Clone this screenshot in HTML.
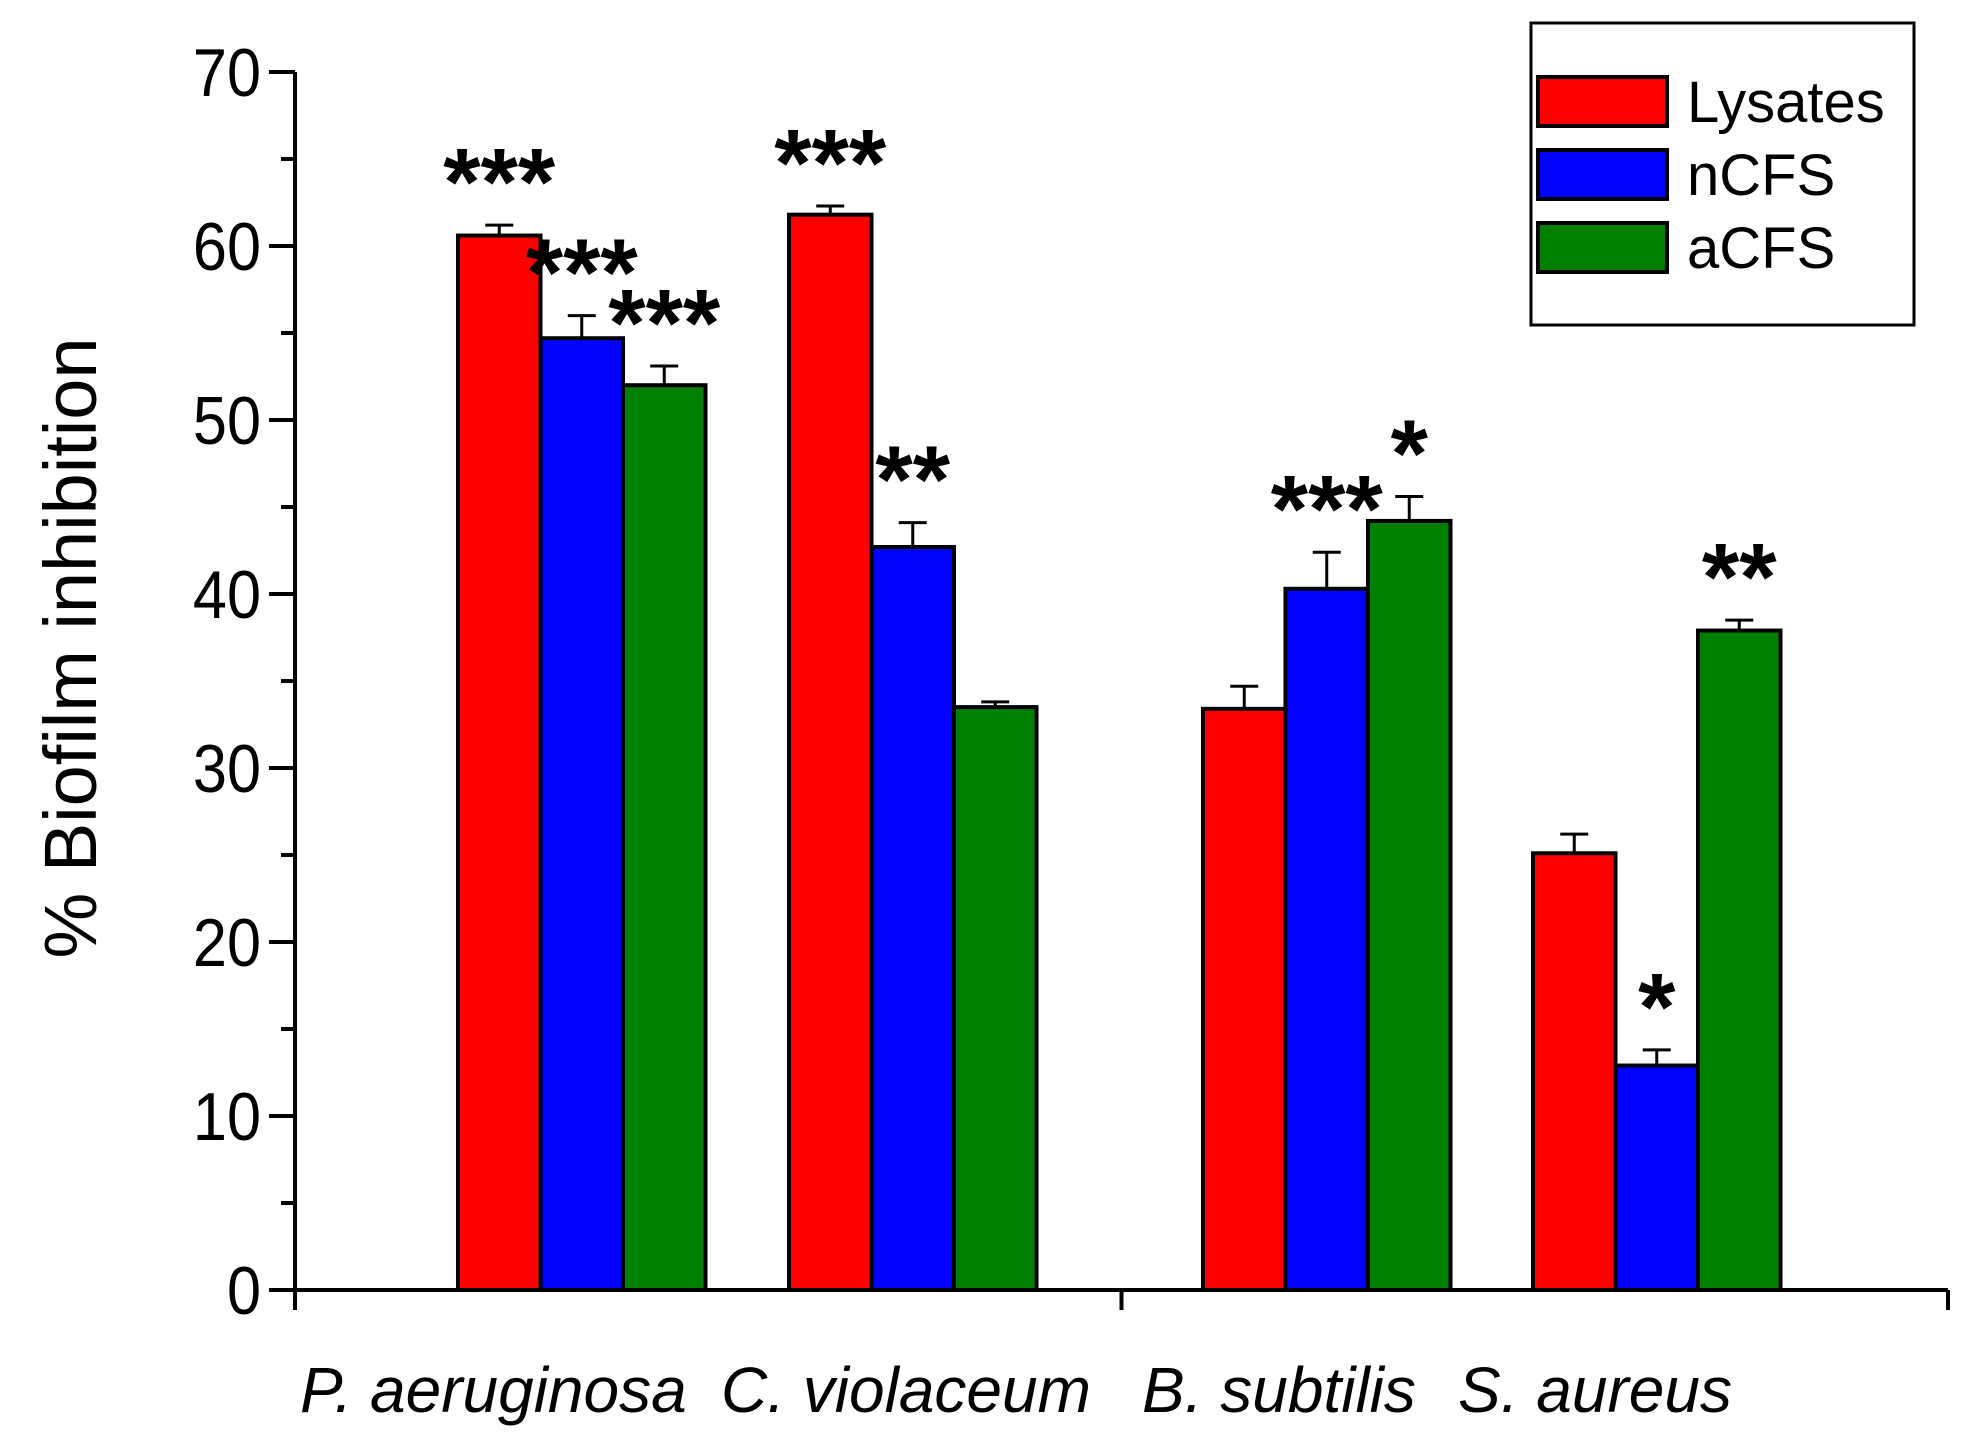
<!DOCTYPE html>
<html><head><meta charset="utf-8"><style>
html,body{margin:0;padding:0;background:#fff;}
svg{display:block;font-family:"Liberation Sans",sans-serif;}
</style></head><body>
<svg id="chart" width="1973" height="1436" viewBox="0 0 1973 1436">
<g id="plot"></g>
</svg>
<script>
const categories = ["P. aeruginosa", "C. violaceum", "B. subtilis", "S. aureus"];
const seriesNames = ["Lysates", "nCFS", "aCFS"];
const lysates = [60.6, 61.8, 33.4, 25.1];
const ncfs = [54.7, 42.7, 40.3, 12.9];
const acfs = [52.0, 33.5, 44.2, 37.9];
const lysatesErr = [0.6, 0.5, 1.3, 1.1];
const ncfsErr = [1.3, 1.4, 2.1, 0.9];
const acfsErr = [1.1, 0.3, 1.4, 0.6];
const lysatesSig = ["***", "***", "", ""];
const ncfsSig = ["***", "**", "***", "*"];
const acfsSig = ["***", "", "*", "**"];
const yTicks = [0, 10, 20, 30, 40, 50, 60, 70];

const NS = "http://www.w3.org/2000/svg";
const g = document.getElementById('plot');
const colors = ["#ff0000", "#0000ff", "#008000"];
const series = [lysates, ncfs, acfs];
const errs = [lysatesErr, ncfsErr, acfsErr];
const sigs = [lysatesSig, ncfsSig, acfsSig];
const x0 = 295, x1 = 1948, yBase = 1290, yTop = 72, yMax = 70;
function y(v){ return yBase - v / yMax * (yBase - yTop); }
const groupStart = [458, 789, 1203, 1533];
const bw = 82.5;
function mk(tag, attrs, text){
  const e = document.createElementNS(NS, tag);
  for (const k in attrs) e.setAttribute(k, attrs[k]);
  if (text !== undefined) e.textContent = text;
  g.appendChild(e);
  return e;
}
series.forEach((s, si) => {
  s.forEach((v, ci) => {
    const bx = groupStart[ci] + si * bw;
    const et = y(v + errs[si][ci]);
    const cx = bx + bw / 2;
    const l1 = mk('line', {x1: cx, x2: cx, y1: y(v), y2: et, stroke: '#000', 'stroke-width': 3});
    
    
    const l2 = mk('line', {x1: cx - 14, x2: cx + 14, y1: et, y2: et, stroke: '#000', 'stroke-width': 3});
    
    
    const r = mk('rect', {x: bx, y: y(v), width: bw, height: yBase - y(v), fill: colors[si], stroke: '#000', 'stroke-width': 4});
    
    
    if (sigs[si][ci]) {
      const t = mk('text', {x: cx, y: et - 10, 'text-anchor': 'middle', 'font-size': 96, 'font-weight': 'bold'}, sigs[si][ci]);
      
      
    }
  });
});
const ya = mk('line', {x1: x0, x2: x0, y1: yTop, y2: yBase + 2, stroke: '#000', 'stroke-width': 4});


const xa = mk('line', {x1: x0 - 26, x2: x1, y1: yBase, y2: yBase, stroke: '#000', 'stroke-width': 4});


yTicks.forEach(v => {
  const t = mk('line', {x1: x0 - 26, x2: x0, y1: y(v), y2: y(v), stroke: '#000', 'stroke-width': 4});
  
  
  if (v < yMax) {
    const m = mk('line', {x1: x0 - 14, x2: x0, y1: y(v + 5), y2: y(v + 5), stroke: '#000', 'stroke-width': 4});
    
    
  }
  const lb = mk('text', {x: x0 - 34, y: y(v) + 24, 'text-anchor': 'end', 'font-size': 68, transform: 'translate(' + (x0 - 34) + ',' + (y(v) + 24) + ') scale(0.9,1) translate(' + (-(x0 - 34)) + ',' + (-(y(v) + 24)) + ')'}, String(v));
  
  
});
[x0, (x0 + x1) / 2, x1].forEach(xx => {
  const t = mk('line', {x1: xx, x2: xx, y1: yBase, y2: yBase + 20, stroke: '#000', 'stroke-width': 4});
  
  
});
const labelX = [300, 721, 1142, 1458];
categories.forEach((c, i) => {
  const t = mk('text', {x: labelX[i], y: 1412, 'font-size': 64, 'font-style': 'italic'}, c);
  
  
});
const yt = mk('text', {x: 0, y: 0, 'font-size': 74, 'text-anchor': 'middle', transform: 'translate(96,648) rotate(-90)'}, '% Biofilm inhibition');


const lg = mk('rect', {x: 1531, y: 23, width: 383, height: 302, fill: '#fff', stroke: '#000', 'stroke-width': 3});


seriesNames.forEach((n, i) => {
  const sy = 77 + i * 73;
  const s = mk('rect', {x: 1538, y: sy, width: 129, height: 49, fill: colors[i], stroke: '#000', 'stroke-width': 4});
  
  
  const t = mk('text', {x: 1687, y: sy + 45, 'font-size': 58}, n);
  
  
});
</script>
</body></html>
